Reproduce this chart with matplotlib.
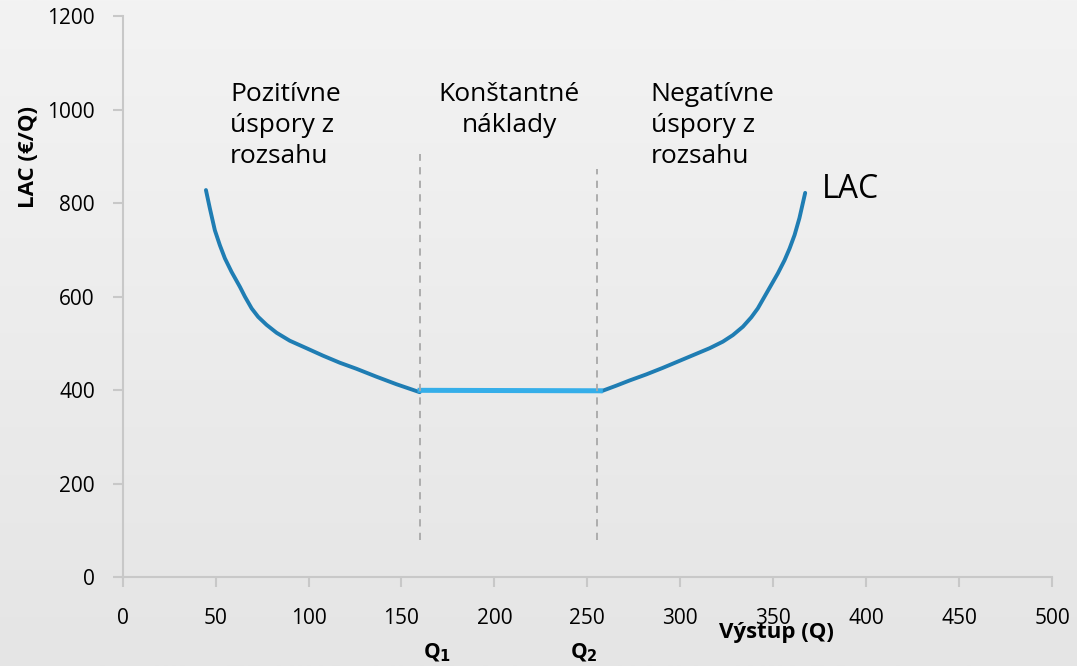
import numpy as np
import matplotlib.pyplot as plt
from matplotlib.colors import LinearSegmentedColormap

# LAC curve
q_left = [44.8, 46.9, 49.6, 52.3, 55.0, 58.6, 63.1, 65.8, 69.4, 72.9, 77.4, 82.8, 89.9,
          98.9, 107.8, 116.8, 125.8, 136.6, 147.3, 159.8]
lac_left = [828, 789, 742, 710, 682, 653, 621, 600, 575, 557, 540, 523, 506,
            490, 474, 459, 446, 429, 413, 396]
q_flat = [160, 257]
lac_flat = [400, 399]
q_right = [257.5, 265.6, 272.7, 281.7, 290.6, 299.6, 308.6, 315.8, 322.9, 328.3, 333.7,
           338.2, 341.7, 345.3, 348.9, 352.5, 356.1, 358.8, 361.5, 364.1, 367.2]
lac_right = [398, 410, 421, 434, 448, 463, 478, 490, 504, 518, 536,
             556, 575, 600, 625, 650, 678, 703, 732, 768, 822]

q1, q2 = 160, 255
dash1 = [80, 904]
dash2 = [80, 872]

xticks = [0, 50, 100, 150, 200, 250, 300, 350, 400, 450, 500]
yticks = [0, 200, 400, 600, 800, 1000, 1200]

plt.rcParams['font.family'] = ['Open Sans', 'DejaVu Sans']

fig = plt.figure(figsize=(10.77, 6.66), dpi=100, facecolor='#efefef')

# soft grey background gradient
bg = fig.add_axes([0, 0, 1, 1], zorder=-10)
bg.imshow(np.linspace(0, 1, 256).reshape(-1, 1), aspect='auto', extent=[0, 1, 0, 1],
          cmap=LinearSegmentedColormap.from_list('bg', ['#f3f3f3', '#e5e5e5']))
bg.axis('off')

ax = fig.add_axes([0.1139, 0.1329, 0.8629, 0.8431])
ax.patch.set_alpha(0)

ax.plot(q_left, lac_left, color='#1f7db3', lw=2.8, solid_capstyle='round', solid_joinstyle='round')
ax.plot(q_right, lac_right, color='#1f7db3', lw=2.8, solid_capstyle='round', solid_joinstyle='round')
ax.plot(q_flat, lac_flat, color='#35aee9', lw=3.6)
ax.plot([q1, q1], dash1, color='#a8a8a8', lw=1.3, ls=(0, (4, 3.5)))
ax.plot([q2, q2], dash2, color='#a8a8a8', lw=1.3, ls=(0, (4, 3.5)))

ax.set_xlim(0, 500)
ax.set_ylim(0, 1200)
ax.set_xticks(xticks)
ax.set_yticks(yticks)
ax.tick_params(colors='#c8c8c8', labelcolor='black', labelsize=15, length=7, width=1.5)
ax.tick_params(axis='x', pad=15)
ax.tick_params(axis='y', pad=13)
for s in ['top', 'right']:
    ax.spines[s].set_visible(False)
for s in ['left', 'bottom']:
    ax.spines[s].set_color('#c8c8c8')
    ax.spines[s].set_linewidth(1.5)

txt = dict(fontsize=19, va='top', linespacing=1.3)
ax.text(57.8, 1058, 'Pozitívne\núspory z\nrozsahu', ha='left', **txt)
ax.text(208, 1058, 'Konštantné\nnáklady', ha='center', **txt)
ax.text(284, 1058, 'Negatívne\núspory z\nrozsahu', ha='left', **txt)
ax.text(376.4, 830, 'LAC', fontsize=23, va='center', ha='left')

ax.text(352, -118, 'Výstup (Q)', fontsize=16, fontweight='bold', ha='center', va='center')
fig.text(0.026, 0.765, 'LAC (€/Q)', fontsize=16, fontweight='bold', rotation=90,
         ha='center', va='center')
ax.text(169, -162, 'Q$_\\mathbf{1}$', fontsize=15, fontweight='bold', ha='center', va='center')
ax.text(248, -162, 'Q$_\\mathbf{2}$', fontsize=15, fontweight='bold', ha='center', va='center')

fig.savefig('out.png', dpi=100, facecolor=fig.get_facecolor())
